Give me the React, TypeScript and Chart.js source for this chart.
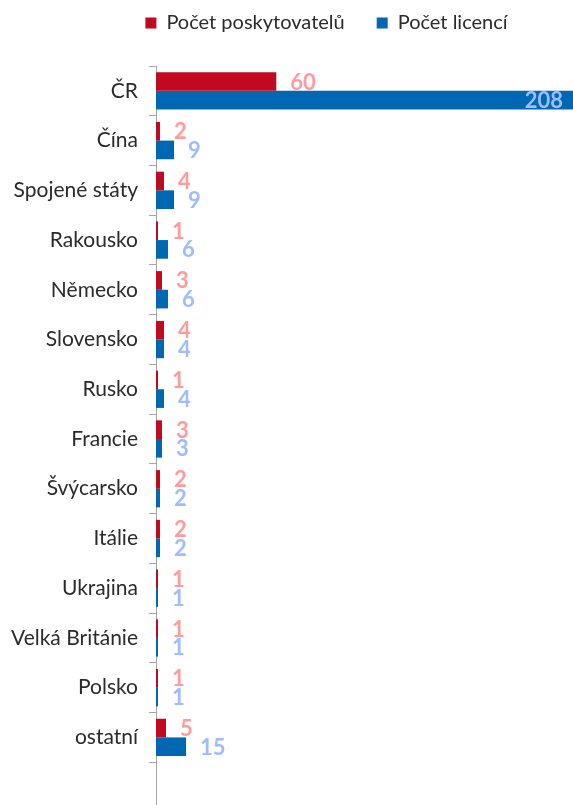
import React, { useEffect, useRef } from "react";
import { Chart, registerables } from "chart.js";

Chart.register(...registerables);

const categories = [
  "ČR",
  "Čína",
  "Spojené státy",
  "Rakousko",
  "Německo",
  "Slovensko",
  "Rusko",
  "Francie",
  "Švýcarsko",
  "Itálie",
  "Ukrajina",
  "Velká Británie",
  "Polsko",
  "ostatní",
  "",
];

const providers = [60, 2, 4, 1, 3, 4, 1, 3, 2, 2, 1, 1, 1, 5];
const licences = [208, 9, 9, 6, 6, 4, 4, 3, 2, 2, 1, 1, 1, 15];

const seriesNames = ["Počet poskytovatelů", "Počet licencí"];
const barColors = ["#C00A1F", "#0068B3"];
const labelColors = ["#FF9B9B", "#9EBCFF"];

const FONT = "Lato, 'Open Sans', sans-serif";

const valueLabels = {
  id: "valueLabels",
  afterDatasetsDraw(chart: any) {
    const ctx = chart.ctx;
    const right = chart.chartArea.right;
    chart.data.datasets.forEach((ds: any, di: number) => {
      const meta = chart.getDatasetMeta(di);
      meta.data.forEach((bar: any, i: number) => {
        const v = ds.data[i];
        if (v == null) return;
        const text = String(v);
        ctx.save();
        ctx.font = `bold 22px ${FONT}`;
        ctx.fillStyle = labelColors[di];
        ctx.textBaseline = "alphabetic";
        const w = ctx.measureText(text).width;
        let x = bar.x + 14;
        ctx.textAlign = "left";
        if (x + w > right) {
          ctx.textAlign = "right";
          x = bar.x - 10;
        }
        ctx.fillText(text, x, bar.y + 8);
        ctx.restore();
      });
    });
  },
};

const legendShift = {
  id: "legendShift",
  afterLayout(chart: any) {
    const lg = chart.legend;
    if (lg) {
      lg.top -= 23;
      lg.bottom -= 23;
      lg.left += 80;
    }
  },
};

export default function App() {
  const ref = useRef<HTMLCanvasElement | null>(null);

  useEffect(() => {
    if (!ref.current) return;
    const chart = new Chart(ref.current, {
      type: "bar",
      data: {
        labels: categories,
        datasets: [
          {
            label: seriesNames[0],
            data: providers,
            backgroundColor: barColors[0],
            borderWidth: 0,
            categoryPercentage: 0.75,
            barPercentage: 1.0,
          },
          {
            label: seriesNames[1],
            data: licences,
            backgroundColor: barColors[1],
            borderWidth: 0,
            categoryPercentage: 0.75,
            barPercentage: 1.0,
          },
        ],
      },
      options: {
        indexAxis: "y",
        animation: false,
        responsive: false,
        devicePixelRatio: 1,
        layout: { padding: { left: 0, top: 4, right: 0, bottom: 0 } },
        plugins: {
          tooltip: { enabled: false },
          legend: {
            position: "top",
            align: "center",
            labels: {
              boxWidth: 11,
              boxHeight: 11,
              padding: 32,
              color: "#2B2B2B",
              font: { family: FONT, size: 20 },
            },
          },
        },
        scales: {
          x: {
            display: false,
            min: 0,
            max: 208,
          },
          y: {
            afterFit(scale: any) {
              scale.width = 156;
              scale.paddingTop = 0;
              scale.paddingBottom = 0;
            },
            grid: {
              drawOnChartArea: false,
              drawTicks: true,
              tickLength: 7,
              color: "#A6A6A6",
              offset: true,
            },
            border: { display: true, color: "#A6A6A6", width: 1 },
            ticks: {
              padding: 11,
              color: "#2B2B2B",
              font: { family: FONT, size: 21 },
              autoSkip: false,
            },
          },
        },
      },
      plugins: [valueLabels, legendShift],
    });
    return () => chart.destroy();
  }, []);

  return (
    <div style={{ position: "fixed", left: 0, top: 0, width: 573, height: 812 }}>
      <canvas ref={ref} width={573} height={812} />
    </div>
  );
}
